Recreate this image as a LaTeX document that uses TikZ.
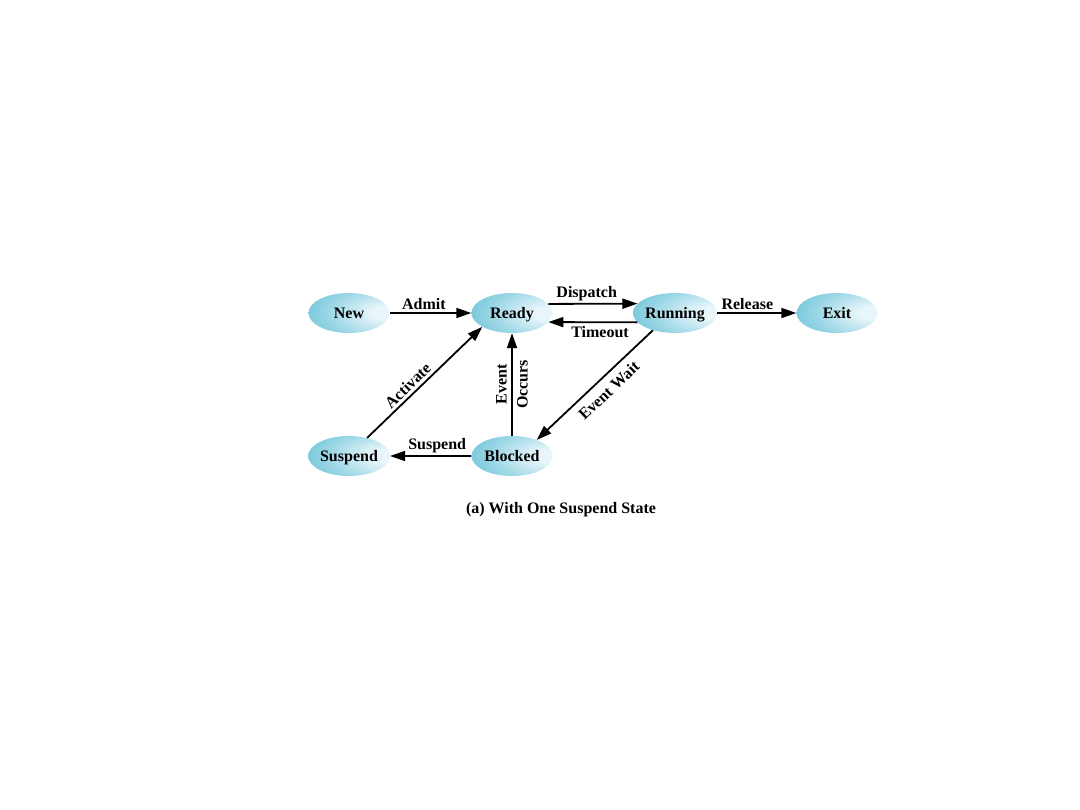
\documentclass[tikz,border=0pt]{standalone}
\usepackage{fontspec}
\setmainfont{Liberation Serif}
\usetikzlibrary{arrows.meta,shapes.geometric}
\definecolor{statecyan}{RGB}{72,180,208}
\definecolor{statelight}{RGB}{232,246,250}
\pgfdeclareradialshading{stateball}{\pgfpoint{24bp}{0bp}}{%
  color(0bp)=(statelight);
  color(8bp)=(statelight);
  color(30bp)=(statecyan!55!white);
  color(52bp)=(statecyan!92!white);
  color(72bp)=(statecyan);
  color(100bp)=(statecyan)}
\tikzset{
  state/.style={ellipse, minimum width=81pt, minimum height=40pt, inner sep=0pt,
    text height=12pt, text depth=0pt,
    shading=stateball, draw=none, font=\bfseries\fontsize{16}{18}\selectfont},
  arr/.style={line width=1.8pt, -{Triangle[length=15pt,width=10pt]}},
  lbl/.style={font=\bfseries\fontsize{16}{18}\selectfont, inner sep=2pt},
}
\begin{document}
\begin{tikzpicture}[x=1pt,y=-1pt]
\useasboundingbox (0,0) rectangle (1080,810);
\node[state] (new) at (349,313) {New};
\node[state] (ready) at (512,313) {Ready};
\node[state] (running) at (675,313) {Running};
\node[state] (exit) at (837,313) {Exit};
\node[state] (suspend) at (349,456) {Suspend};
\node[state] (blocked) at (512,456) {Blocked};

\draw[arr] (new) -- node[lbl, above, pos=0.42] {Admit} (ready);
\draw[arr] (ready.14) -- node[lbl, above, pos=0.43] {Dispatch} (running.166);
\draw[arr] (running.194) -- node[lbl, below=1.5pt, pos=0.42] {Timeout} (ready.-14);
\draw[arr] (running) -- node[lbl, above, pos=0.38] {Release} (exit);
\draw[arr] (running.218) -- node[lbl, sloped, below=5pt, pos=0.46] {Event Wait} (blocked.33);
\draw[arr] (blocked) -- node[lbl, above, pos=0.42] {Suspend} (suspend);
\draw[arr] (suspend.45) -- node[lbl, sloped, above=1pt, pos=0.41] {Activate} (ready.205);
\draw[arr] (blocked) -- node[lbl, rotate=90, align=center, font=\bfseries\fontsize{16}{21}\selectfont] {Event\\Occurs} (ready);

\node[lbl] (caption) at (561,510) {(a) With One Suspend State};
\end{tikzpicture}
\end{document}
